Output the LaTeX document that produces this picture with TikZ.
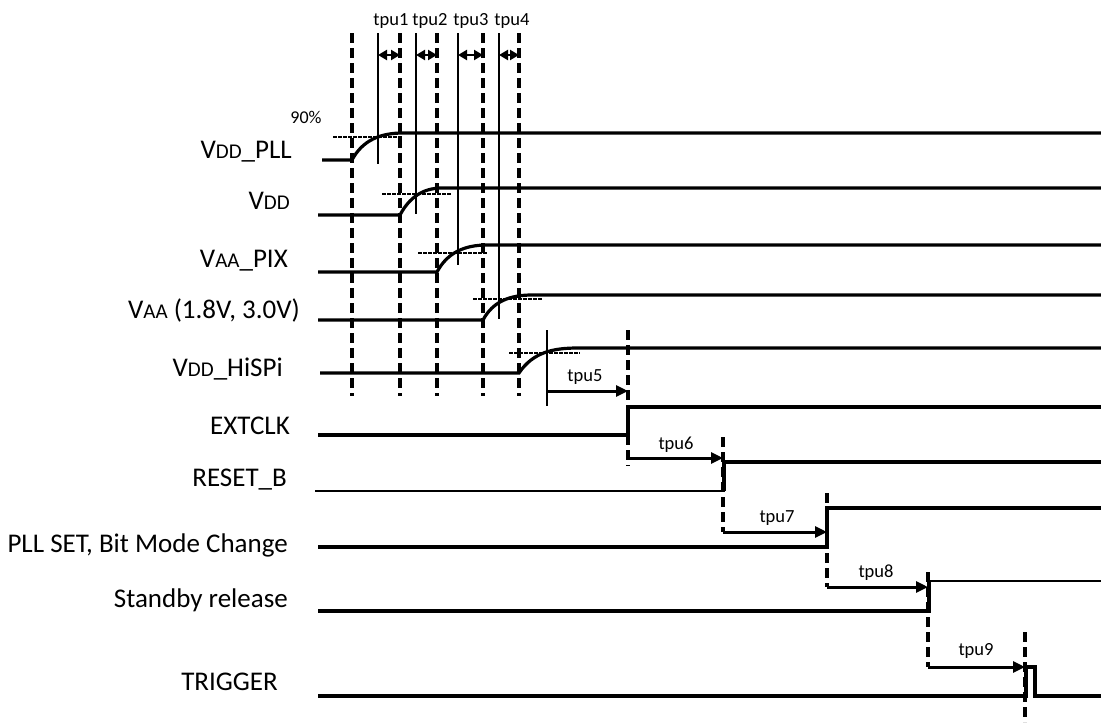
\documentclass[tikz,border=0pt]{standalone}
\usepackage{fontspec}
\setmainfont{Carlito}
\usetikzlibrary{arrows.meta}
\newcommand{\smc}[1]{{\fontsize{21}{21}\selectfont #1}}
\begin{document}
\begin{tikzpicture}[x=1pt,y=-1pt,
  sig/.style={line width=3.2pt, line join=miter},
  thinsig/.style={line width=1.9pt},
  guide/.style={line width=3.2pt, dash pattern=on 10pt off 5pt},
  mark90/.style={line width=1.6pt, dash pattern=on 3.5pt off 1.5pt},
  tick/.style={line width=1.9pt},
  lbl/.style={anchor=base east, inner sep=0pt, font=\fontsize{27}{31}\selectfont},
  tlbl/.style={anchor=base, inner sep=0pt, font=\fontsize{18.5}{22}\selectfont},
  plbl/.style={anchor=base, inner sep=0pt, font=\fontsize{18}{21}\selectfont},
  tarrow/.style={line width=3pt, -{Triangle[length=12pt,width=11pt]}},
  darrow/.style={line width=2.2pt, {Triangle[length=9pt,width=10pt]}-{Triangle[length=9pt,width=10pt]}},
]
\useasboundingbox (0,0) rectangle (1101,723);

% ---- signal labels
\node[lbl] (lpll) at (292,158) {V\smc{DD}\_PLL};
\node[lbl] (lvdd) at (290,209) {V\smc{DD}};
\node[lbl] (lpix) at (288,267) {V\smc{AA}\_PIX};
\node[lbl] (lvaa) at (300,318) {V\smc{AA} (1.8V, 3.0V)};
\node[lbl] (lhispi) at (283,376) {V\smc{DD}\_HiSPi};
\node[lbl] (lclk) at (290,434) {EXTCLK};
\node[lbl] (lrst) at (287,486) {RESET\_B};
\node[lbl] (lpllset) at (288,552) {PLL SET, Bit Mode Change};
\node[lbl] (lstby) at (288,607) {Standby release};
\node[lbl] (ltrig) at (278,690) {TRIGGER};
\node[plbl] (l90) at (306,123) {90\%};

% ---- timing labels
\node[tlbl] (t1) at (391,25) {tpu1};
\node[tlbl] (t2) at (430,25) {tpu2};
\node[tlbl] (t3) at (471,25) {tpu3};
\node[tlbl] (t4) at (512,25) {tpu4};
\node[tlbl] (t5) at (585,381) {tpu5};
\node[tlbl] (t6) at (676,449) {tpu6};
\node[tlbl] (t7) at (777,522) {tpu7};
\node[tlbl] (t8) at (876,577) {tpu8};
\node[tlbl] (t9) at (976,655) {tpu9};

% ---- dashed guide lines (power-up)
\foreach \gx in {352,400,437,483,519}
  \draw[guide] (\gx,33) -- (\gx,396);

% ---- solid 90% markers
\coordinate (s1t) at (378,33);  \coordinate (s1b) at (378,164);
\coordinate (s2t) at (416,33);  \coordinate (s2b) at (416,214);
\coordinate (s3t) at (458,33);  \coordinate (s3b) at (458,265);
\coordinate (s4t) at (499,33);  \coordinate (s4b) at (499,319);
\coordinate (s5t) at (547,330); \coordinate (s5b) at (547,406);
\foreach \s in {1,...,5} \draw[tick] (s\s t) -- (s\s b);

% ---- 90% level dashes
\draw[mark90] (333,137) -- (403,137);
\draw[mark90] (382,194) -- (452,194);
\draw[mark90] (418,253) -- (488,253);
\draw[mark90] (473,299) -- (543,299);
\draw[mark90] (509,353) -- (580,353);

% ---- tpu1..tpu4 double arrows
\coordinate (g1) at (400,55); \coordinate (g2) at (437,55);
\coordinate (g3) at (483,55); \coordinate (g4) at (519,55);
\draw[darrow] (378,55) -- (g1);
\draw[darrow] (416,55) -- (g2);
\draw[darrow] (458,55) -- (g3);
\draw[darrow] (499,55) -- (g4);

% ---- power rails
\draw[sig] (322,160) -- (352,160) to[out=62,in=180] (403,133) -- (1101,133);
\draw[sig] (318,215) -- (400,215) to[out=62,in=180] (442,188) -- (1101,188);
\draw[sig] (318,272) -- (437,272) to[out=62,in=180] (487,245) -- (1101,245);
\draw[sig] (318,320) -- (483,320) to[out=62,in=180] (532,295) -- (1101,295);
\draw[sig] (320,373) -- (519,373) to[out=56,in=180] (578,348) -- (1101,348);

% ---- digital signals
\draw[sig] (318,435) -- (628,435) -- (628,407) -- (1101,407);
\draw[thinsig] (315,491) -- (724,491);
\draw[sig] (724,491) -- (724,462) -- (1101,462);
\draw[sig] (318,547) -- (827,547) -- (827,508) -- (1101,508);
\draw[sig] (318,611) -- (929,611) -- (929,581);
\draw[thinsig] (929,581) -- (1101,581);
\draw[sig] (318,696) -- (1026,696) -- (1026,667) -- (1035,667) -- (1035,696) -- (1101,696);

% ---- sequence guides and arrows
\coordinate (d5t) at (628,330); \coordinate (d5b) at (628,466);
\coordinate (d6t) at (723,437); \coordinate (d6b) at (723,532);
\coordinate (d7t) at (827,493); \coordinate (d7b) at (827,587);
\coordinate (d8t) at (928,572); \coordinate (d8b) at (928,667);
\coordinate (d9t) at (1025,632); \coordinate (d9b) at (1025,722);
\foreach \d in {5,...,9} \draw[guide] (d\d t) -- (d\d b);

\draw[tarrow] (547,391) -- (628,391);
\draw[tarrow] (628,458) -- (723,458);
\draw[tarrow] (723,532) -- (827,532);
\draw[tarrow] (827,587) -- (928,587);
\draw[tarrow] (928,667) -- (1025,667);
\end{tikzpicture}
\end{document}
